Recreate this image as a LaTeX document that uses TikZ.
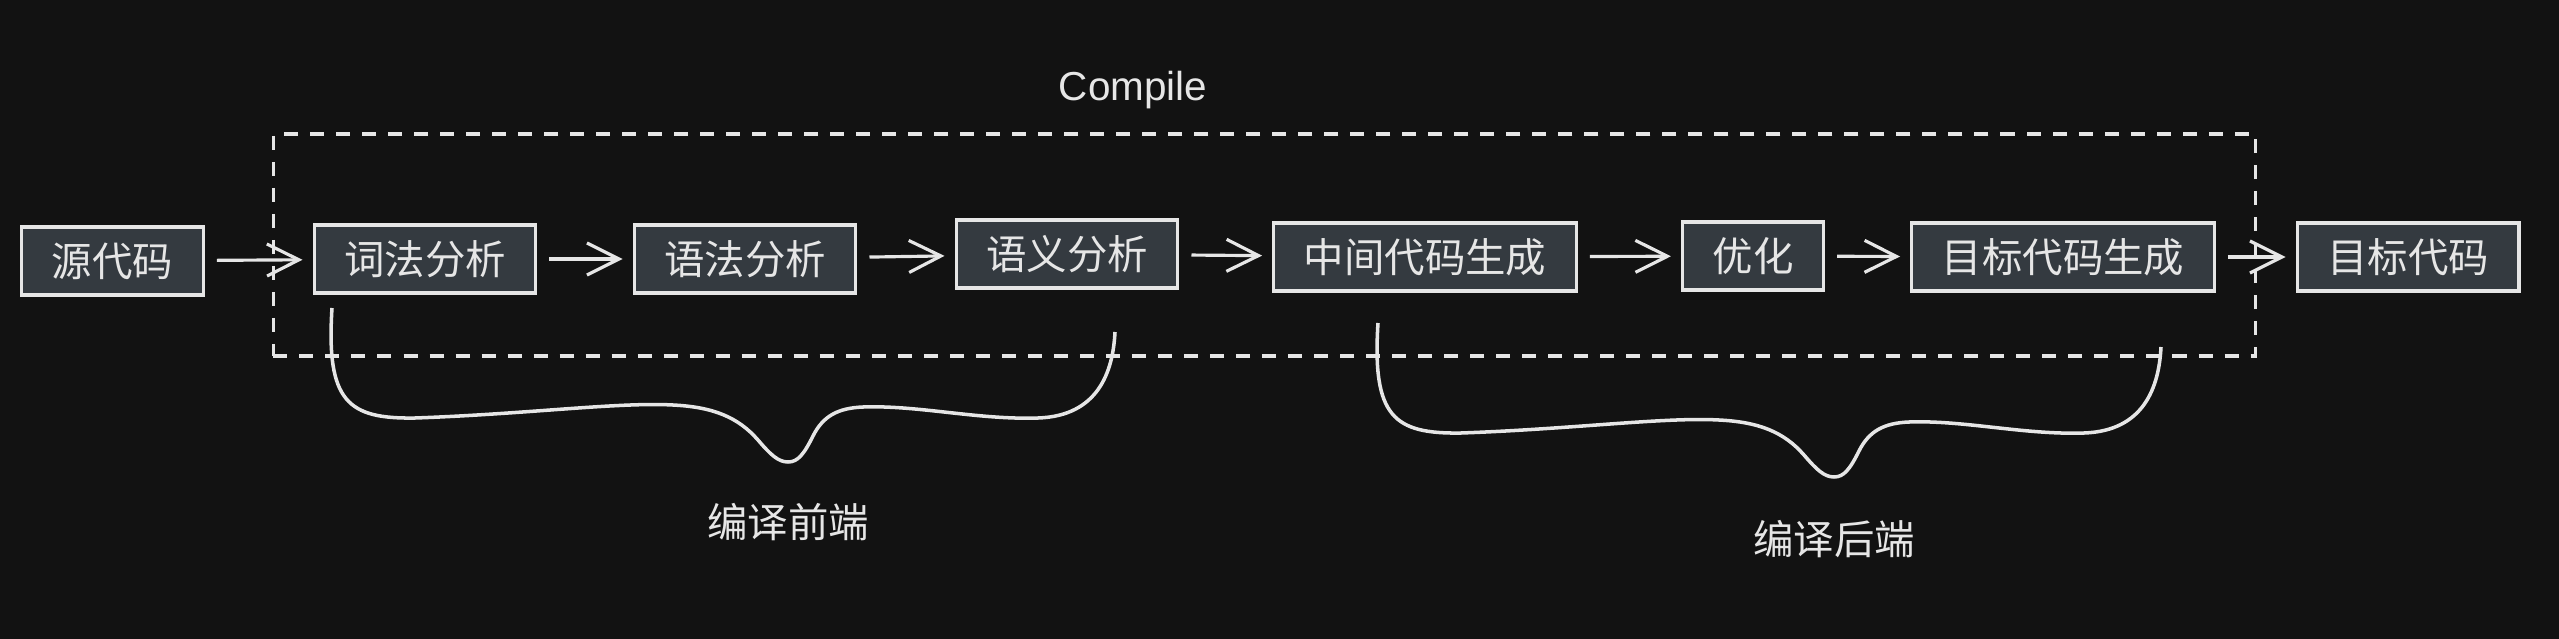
\documentclass[tikz,border=0pt]{standalone}
\usepackage{fontspec}
\setmainfont{Liberation Sans}
\newfontfamily\cjk{Noto Sans CJK SC}
\usetikzlibrary{arrows.meta}
\definecolor{canvasbg}{HTML}{121212}
\definecolor{boxfill}{HTML}{343A40}
\definecolor{inkline}{HTML}{E6E6E6}
\tikzset{
  curlybrace/.pic={
    \draw[line width=1pt] (-456,-154) .. controls (-462,-60) and (-440,-43) .. (-373,-44)
      .. controls (-260,-48) and (-170,-60) .. (-115,-57)
      .. controls (-75,-55) and (-50,-45) .. (-30,-22)
      .. controls (-18,-8) and (-10,0) .. (0,0)
      .. controls (10,0) and (16,-8) .. (25,-26)
      .. controls (35,-46) and (50,-54) .. (75,-55)
      .. controls (130,-57) and (190,-42) .. (250,-44)
      .. controls (310,-46) and (325,-90) .. (327,-130);
  }
}

\begin{document}
\begin{tikzpicture}[x=0.01cm, y=-0.01cm, color=inkline,
  stage/.style={draw, fill=boxfill, line width=0.9pt, font=\cjk\fontsize{11.5}{14}\selectfont, inner xsep=0.3cm, minimum height=0.68cm},
  flow/.style={-{Straight Barb[length=0.32cm,width=0.32cm]}, line width=0.9pt, shorten <=0.12cm, shorten >=0.1cm},
  note/.style={font=\cjk\fontsize{11.5}{14}\selectfont}]
  \fill[canvasbg] (0,0) rectangle (2559,639);

  % compile stage
  \node[draw, dash pattern=on 0.14cm off 0.12cm, line width=0.9pt, minimum width=19.81cm, minimum height=2.22cm, inner sep=0pt] (compile) at (1264.5,245) {};
  \node[font=\fontsize{11.5}{14}\selectfont] (compiletitle) at (1133,90) {Compile};

  \node[stage] (src) at (112.5,261) {源代码};
  \node[stage] (lex) at (425,259)   {词法分析};
  \node[stage] (syn) at (745,259)   {语法分析};
  \node[stage] (sem) at (1067,254)  {语义分析};
  \node[stage] (ir)  at (1425,257)  {中间代码生成};
  \node[stage] (opt) at (1753,256)  {优化};
  \node[stage] (gen) at (2063,257)  {目标代码生成};
  \node[stage] (tgt) at (2408,257)  {目标代码};

  \path[flow]
    (src) edge (lex)
    (lex) edge (syn)
    (syn) edge (sem)
    (sem) edge (ir)
    (ir)  edge (opt)
    (opt) edge (gen)
    (gen) edge (tgt);

  % front end / back end
  \pic at (788,462) {curlybrace};
  \pic at (1834,477) {curlybrace};
  \node[note] (front) at (788,522) {编译前端};
  \node[note] (back)  at (1834,539) {编译后端};
\end{tikzpicture}
\end{document}
